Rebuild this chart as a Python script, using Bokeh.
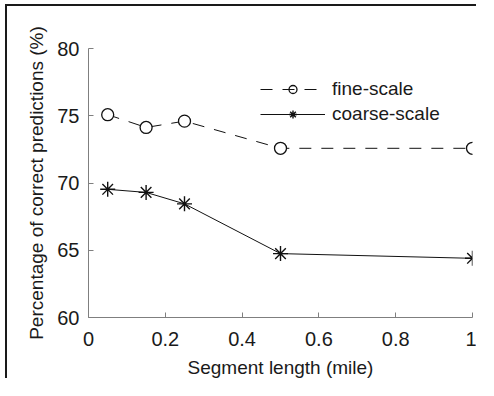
from bokeh.plotting import figure
from bokeh.models import FixedTicker, Legend, LegendItem, Range1d, Spacer
from bokeh.layouts import column, row
from bokeh.embed import file_html
from bokeh.resources import INLINE

# data
seg_len = [0.05, 0.15, 0.25, 0.5, 1.0]
fine_scale = [75.08, 74.13, 74.6, 72.58, 72.58]
coarse_scale = [69.53, 69.3, 68.45, 64.75, 64.4]
x_ticks = [0, 0.2, 0.4, 0.6, 0.8, 1]
x_tick_labels = ["0", "0.2", "0.4", "0.6", "0.8", "1"]
y_ticks = [60, 65, 70, 75, 80]

FONT = "Liberation Sans"
TXT = "#1a1a1a"
AX = "#7f7f7f"

p = figure(
    output_backend="svg", toolbar_location=None,
    frame_width=382, frame_height=267,
    min_border_left=81, min_border_right=6, min_border_top=42, min_border_bottom=58,
    x_range=Range1d(0, 1), y_range=Range1d(60, 80),
)
p.styles = {"border-left": "2px solid #1a1a1a", "border-top": "2px solid #1a1a1a"}
p.outline_line_color = None
p.xgrid.visible = False
p.ygrid.visible = False
p.background_fill_color = "white"
p.border_fill_color = "white"

for ax in (p.xaxis[0], p.yaxis[0]):
    ax.axis_line_color = AX
    ax.axis_line_width = 1
    ax.major_tick_line_color = AX
    ax.major_tick_in = 5
    ax.major_tick_out = 0
    ax.minor_tick_line_color = None
    ax.major_label_text_font = FONT
    ax.major_label_text_font_size = "20px"
    ax.major_label_text_color = TXT
    ax.axis_label_text_font = FONT
    ax.axis_label_text_font_size = "19px"
    ax.axis_label_text_font_style = "normal"
    ax.axis_label_text_color = TXT

p.xaxis.ticker = FixedTicker(ticks=x_ticks)
p.xaxis.major_label_overrides = {t: l for t, l in zip(x_ticks, x_tick_labels)}
p.yaxis.ticker = FixedTicker(ticks=y_ticks)
p.xaxis.axis_label = "Segment length (mile)"
p.yaxis.axis_label = "Percentage of correct predictions (%)"
p.xaxis.major_label_standoff = 14
p.xaxis.axis_label_standoff = 8
p.yaxis.major_label_standoff = 9
p.yaxis.axis_label_standoff = 7

fl = p.line(seg_len, fine_scale, line_color="#111111", line_width=1, line_dash="12 10")
fm = p.scatter(seg_len, fine_scale, marker="circle", size=12, line_color="#111111",
               line_width=1.3, fill_color="white")
cl = p.line(seg_len, coarse_scale, line_color="#111111", line_width=1)
cm = p.scatter(seg_len, coarse_scale, marker="asterisk", size=15, line_color="#111111",
               line_width=1.4)

legend = Legend(
    items=[LegendItem(label="fine-scale", renderers=[fm, fl]),
           LegendItem(label="coarse-scale", renderers=[cl, cm])],
    location=(172, 192), orientation="vertical",
    padding=0, margin=0, spacing=3,
    glyph_width=65, glyph_height=20, label_height=20, label_standoff=7,
    label_text_font=FONT, label_text_font_size="19px", label_text_color=TXT,
    border_line_color=None, background_fill_alpha=0,
)
p.add_layout(legend, "center")

layout = column(Spacer(height=4), row(Spacer(width=5), p))
open("out.html", "w").write(file_html(layout, INLINE))
